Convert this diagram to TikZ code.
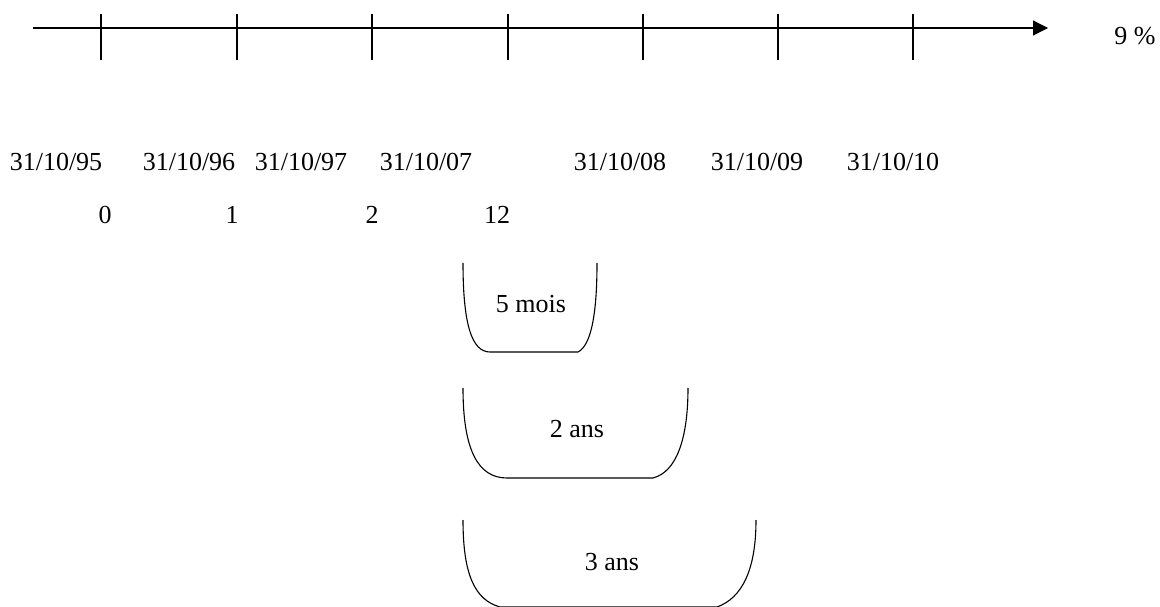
\documentclass[tikz,border=0pt]{standalone}
\usepackage{fontspec}
\setmainfont{Liberation Serif}
\usetikzlibrary{arrows.meta}

\begin{document}
\begin{tikzpicture}[x=1pt, y=-1pt, line width=1.1pt,
    lbl/.style={anchor=base, inner sep=0pt, font=\fontsize{26}{30}\selectfont}]
      \useasboundingbox (0,0) rectangle (1160,607);
      % time axis
      \coordinate (start) at (33,28);
      \coordinate (end) at (1048,28);
      \draw [-{Triangle[length=15pt,width=15pt]}] (start) -- (end);
      \foreach \x in {101,237,372,508,643,778,913}
        \draw (\x,14) -- (\x,60);
      \node [lbl] (rate) at (1135,45) {9 \%};
      % dates
      \node [lbl] (d95) at (56,171) {31/10/95};
      \node [lbl] (d96) at (189,171) {31/10/96};
      \node [lbl] (d97) at (301,171) {31/10/97};
      \node [lbl] (d07) at (426,171) {31/10/07};
      \node [lbl] (d08) at (620,171) {31/10/08};
      \node [lbl] (d09) at (757,171) {31/10/09};
      \node [lbl] (d10) at (893,171) {31/10/10};
      % periods
      \node [lbl] (n0) at (105,223) {0};
      \node [lbl] (n1) at (232,223) {1};
      \node [lbl] (n2) at (372,223) {2};
      \node [lbl] (n12) at (497,223) {12};
      % durations
      \draw (463,263) .. controls (463,325) and (472,352) .. (490,352) -- (578,352)
        .. controls (592,345) and (597,310) .. (597,263);
      \node [lbl] (mois) at (531,312) {5 mois};
      \draw (463,388) .. controls (463,450) and (478,478) .. (507,478) -- (653,478)
        .. controls (676,472) and (688,440) .. (688,388);
      \node [lbl] (ans2) at (577,437) {2 ans};
      \draw (463,520) .. controls (463,575) and (475,600) .. (500,607) -- (717,607)
        .. controls (742,598) and (756,570) .. (756,520);
      \node [lbl] (ans3) at (612,570) {3 ans};
    \end{tikzpicture}
\end{document}
